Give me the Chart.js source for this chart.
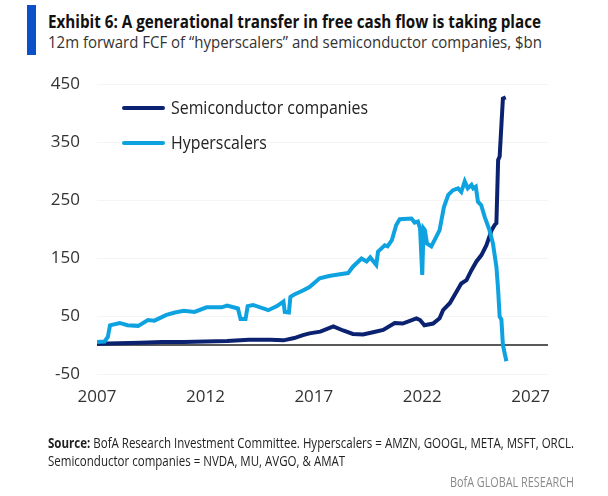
<!DOCTYPE html>
<html>
<head>
<meta charset="utf-8">
<script src="https://cdn.jsdelivr.net/npm/chart.js@4.4.1/dist/chart.umd.min.js"></script>
<style>
  body { margin: 0; width: 608px; height: 496px; background: #fff; position: relative; overflow: hidden; font-family: "Open Sans", sans-serif; }
  #chart { position: absolute; left: 0; top: 0; }
  .bar { position: absolute; left: 27px; top: 5px; width: 9px; height: 50px; background: #0a50c8; }
  .txt { position: absolute; white-space: nowrap; transform-origin: 0 50%; line-height: 1; }
  #title { left: 48px; top: 13px; font-size: 17px; font-weight: 700; color: #111; }
  #subtitle { left: 48px; top: 34px; font-size: 16.5px; color: #333; }
  #source1 { left: 48px; top: 436px; font-size: 14px; color: #222; }
  #source2 { left: 48px; top: 454px; font-size: 14px; color: #222; }
  #research { top: 475px; font-size: 14px; color: #8a8a8a; }
  .swatch { position: absolute; left: 122px; width: 43px; height: 4px; border-radius: 2px; }
  .legend-label { left: 171px; font-size: 18px; color: #222; }
</style>
</head>
<body>
<div class="bar"></div>
<div id="title" class="txt">Exhibit 6: A generational transfer in free cash flow is taking place</div>
<div id="subtitle" class="txt">12m forward FCF of “hyperscalers” and semiconductor companies, $bn</div>
<canvas id="chart" width="608" height="496"></canvas>
<div id="legend"></div>
<div id="source1" class="txt"><b>Source:</b> BofA Research Investment Committee. Hyperscalers = AMZN, GOOGL, META, MSFT, ORCL.</div>
<div id="source2" class="txt">Semiconductor companies = NVDA, MU, AVGO, &amp; AMAT</div>
<div id="research" class="txt">BofA GLOBAL RESEARCH</div>
<script>
const seriesNames = ['Semiconductor companies', 'Hyperscalers'];
const seriesColors = ['#0b2270', '#0ea2e0'];

const xTickLabels = [2007, 2012, 2017, 2022, 2027];
const yTickLabels = [-50, 50, 150, 250, 350, 450];

const semiYears = [
  2007.00, 2008.00, 2009.00, 2010.00, 2011.00, 2012.00, 2013.00, 2014.00, 2015.00, 2015.60,
  2016.10, 2016.50, 2016.80, 2017.30, 2017.90, 2018.35, 2018.80, 2019.27, 2019.73, 2020.20,
  2020.73, 2021.10, 2021.73, 2021.90, 2022.10, 2022.50, 2022.80, 2022.96, 2023.27, 2023.58,
  2023.80, 2024.04, 2024.27, 2024.50, 2024.73, 2024.96, 2025.20, 2025.34, 2025.42, 2025.50,
  2025.57, 2025.72, 2025.85
];
const semiValues = [
  2, 3, 4, 5, 5, 6, 7, 9, 9, 8,
  12, 17, 20, 23, 32, 25, 19, 18, 22, 26,
  38, 37, 46, 43, 34, 37, 46, 60, 72, 92,
  106, 112, 129, 144, 155, 172, 198, 207, 210, 319,
  325, 425, 427
];

const hyperYears = [
  2007.00, 2007.35, 2007.50, 2007.60, 2008.05, 2008.40, 2008.90, 2009.35, 2009.65, 2010.20,
  2010.60, 2011.00, 2011.50, 2012.05, 2012.75, 2013.00, 2013.50, 2013.62, 2013.85, 2013.95,
  2014.20, 2014.90, 2015.30, 2015.60, 2015.66, 2015.85, 2015.92, 2016.10, 2016.50, 2016.80,
  2017.27, 2017.70, 2018.20, 2018.58, 2018.80, 2019.20, 2019.43, 2019.60, 2019.88, 2019.96,
  2020.27, 2020.40, 2020.60, 2020.80, 2020.96, 2021.50, 2021.65, 2021.80, 2021.90, 2022.00,
  2022.06, 2022.12, 2022.22, 2022.42, 2022.65, 2022.80, 2023.00, 2023.20, 2023.42, 2023.65,
  2023.80, 2023.96, 2024.10, 2024.27, 2024.35, 2024.47, 2024.57, 2024.72, 2024.88, 2025.10,
  2025.26, 2025.42, 2025.50, 2025.57, 2025.65, 2025.72, 2025.88
];
const hyperValues = [
  5, 6, 14, 34, 38, 34, 33, 43, 42, 52,
  56, 59, 57, 65, 65, 68, 63, 45, 45, 67,
  69, 60, 67, 75, 57, 56, 83, 87, 94, 100,
  115, 119, 122, 124, 135, 149, 144, 151, 138, 161,
  172, 170, 181, 207, 217, 218, 211, 213, 201, 121,
  201, 198, 175, 170, 187, 198, 238, 259, 267, 270,
  264, 282, 270, 276, 270, 273, 247, 241, 221, 198,
  175, 135, 95, 49, 44, 0, -28
];

function toPoints(years, values) {
  return years.map((x, i) => ({ x, y: values[i] }));
}

const zeroLine = {
  id: 'zeroLine',
  beforeDatasetsDraw(chart) {
    const { ctx, chartArea, scales } = chart;
    const y = scales.y.getPixelForValue(0);
    ctx.save();
    ctx.strokeStyle = '#222';
    ctx.lineWidth = 1.5;
    ctx.beginPath();
    ctx.moveTo(chartArea.left, y);
    ctx.lineTo(chartArea.right, y);
    ctx.stroke();
    ctx.restore();
  }
};

const tickFont = { family: '"Open Sans", sans-serif', size: 17 };

new Chart(document.getElementById('chart'), {
  type: 'line',
  data: {
    datasets: [
      {
        label: seriesNames[0],
        data: toPoints(semiYears, semiValues),
        borderColor: seriesColors[0],
        borderWidth: 4,
        pointRadius: 0,
        order: 1,
      },
      {
        label: seriesNames[1],
        data: toPoints(hyperYears, hyperValues),
        borderColor: seriesColors[1],
        borderWidth: 4,
        pointRadius: 0,
        order: 0,
      },
    ],
  },
  options: {
    responsive: false,
    animation: false,
    layout: { padding: { top: 84, right: 60, bottom: 0, left: 0 } },
    plugins: { legend: { display: false }, tooltip: { enabled: false } },
    scales: {
      x: {
        type: 'linear',
        min: 2007,
        max: 2027.8,
        afterBuildTicks: (scale) => { scale.ticks = xTickLabels.map((v) => ({ value: v })); },
        afterFit: (scale) => { scale.height = 122; },
        grid: { display: false, drawTicks: false },
        border: { display: false },
        ticks: { font: tickFont, color: '#333', padding: 13, maxRotation: 0, callback: (v) => String(v) },
      },
      y: {
        min: -50,
        max: 450,
        afterBuildTicks: (scale) => { scale.ticks = yTickLabels.map((v) => ({ value: v })); },
        afterFit: (scale) => { scale.width = 97; },
        grid: { color: '#f4f4f4', drawTicks: false },
        border: { display: false },
        ticks: { font: tickFont, color: '#333', padding: 17 },
      },
    },
  },
  plugins: [zeroLine],
});

// legend drawn in HTML, top-left inside the plot
const legend = document.getElementById('legend');
const legendRows = [108, 143];
seriesNames.forEach((name, i) => {
  const sw = document.createElement('div');
  sw.className = 'swatch';
  sw.style.top = (legendRows[i] - 2) + 'px';
  sw.style.background = seriesColors[i];
  legend.appendChild(sw);
  const lb = document.createElement('div');
  lb.className = 'txt legend-label';
  lb.id = 'legend' + i;
  lb.style.top = (legendRows[i] - 10) + 'px';
  lb.textContent = name;
  legend.appendChild(lb);
});

function fitWidth(el, target) {
  const k = target / el.getBoundingClientRect().width;
  el.style.transform = 'scaleX(' + k + ')';
  return k;
}

document.fonts.ready.then(() => {
  fitWidth(document.getElementById('title'), 493);
  fitWidth(document.getElementById('subtitle'), 494);
  const k = fitWidth(document.getElementById('source1'), 526);
  document.getElementById('source2').style.transform = 'scaleX(' + k + ')';
  const r = document.getElementById('research');
  fitWidth(r, 124);
  r.style.left = (574 - 124) + 'px';
  const k2 = fitWidth(document.getElementById('legend0'), 197);
  document.getElementById('legend1').style.transform = 'scaleX(' + k2 + ')';
});
</script>
</body>
</html>
